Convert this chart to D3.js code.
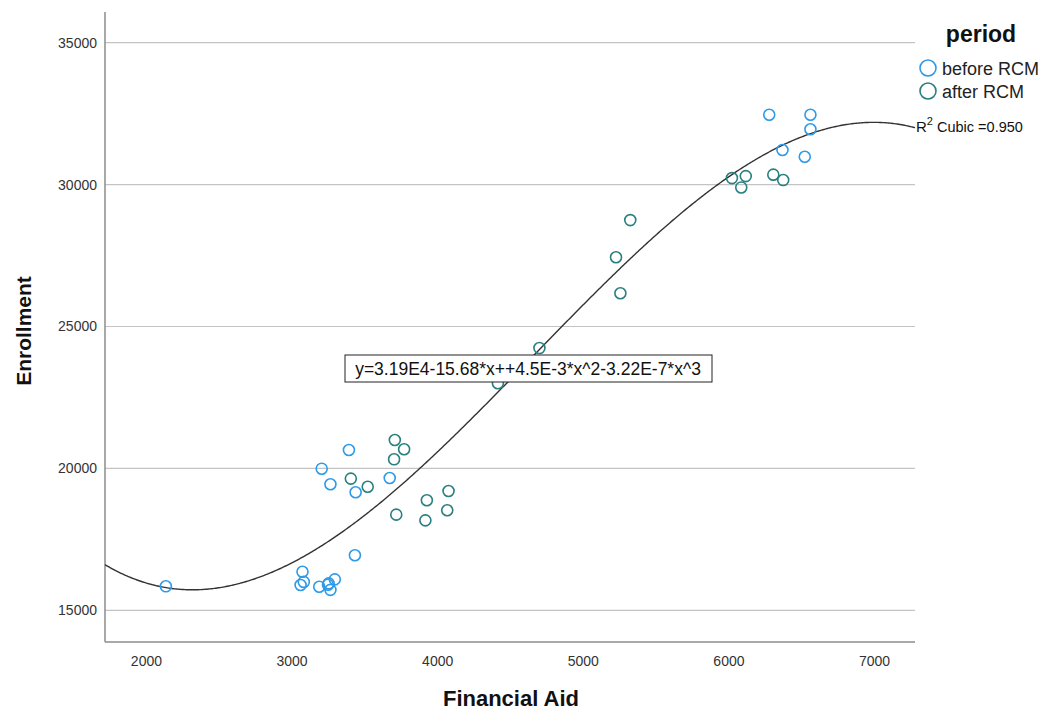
<!DOCTYPE html>
<html>
<head>
<meta charset="utf-8">
<script src="https://cdn.jsdelivr.net/npm/d3@7"></script>
<style>
  body { margin: 0; background: #fff; }
  text { font-family: "Liberation Sans", Arial, sans-serif; }
</style>
</head>
<body>
<div id="chart"></div>
<script>
// values
const beforeAid = [2137, 3394, 3207, 3267, 3440, 3674, 3435, 3075, 3084, 3062, 3190, 3255, 3297, 3267, 3250, 6280, 6563, 6563, 6371, 6524];
const beforeEnroll = [15845, 20650, 19990, 19440, 19160, 19660, 16940, 16360, 16000, 15890, 15830, 15950, 16090, 15720, 15900, 32460, 32460, 31950, 31220, 30980];
const afterAid = [3709, 3773, 3704, 3407, 3523, 3929, 4078, 3719, 3919, 4069, 5326, 5228, 5258, 4702, 4417, 6024, 6119, 6088, 6308, 6376];
const afterEnroll = [21000, 20675, 20320, 19640, 19355, 18876, 19204, 18370, 18170, 18524, 28750, 27440, 26170, 24240, 23000, 30230, 30300, 29900, 30350, 30160];
const xTicks = [2000, 3000, 4000, 5000, 6000, 7000];
const yTicks = [15000, 20000, 25000, 30000, 35000];
const fitCoef = [3.19e4, -15.68, 4.5e-3, -3.22e-7];
const seriesNames = ['before RCM', 'after RCM'];
const seriesColors = ['#2f9ae8', '#2a7f7f'];

const width = 1042, height = 714;
const plotLeft = 105, plotRight = 915, plotTop = 12, plotBottom = 642;

const svg = d3.select('#chart').append('svg')
  .attr('width', width)
  .attr('height', height);

const x = d3.scaleLinear().domain([1719, 7281]).range([plotLeft, plotRight]);
const y = d3.scaleLinear().domain([13883, 36082]).range([plotBottom, plotTop]);

// grid lines
svg.append('g')
  .selectAll('line')
  .data(yTicks)
  .enter().append('line')
  .attr('x1', plotLeft).attr('x2', plotRight)
  .attr('y1', d => y(d)).attr('y2', d => y(d))
  .attr('stroke', '#c4c4c4')
  .attr('stroke-width', 1.2);

// axes
const yAxis = svg.append('g')
  .attr('transform', `translate(${plotLeft},0)`)
  .call(d3.axisLeft(y).tickValues(yTicks).tickSize(0).tickPadding(8).tickFormat(d3.format('d')));
yAxis.select('.domain').attr('stroke', '#8c8c8c').attr('stroke-width', 1.5).attr('d', `M0,${plotTop}V${plotBottom}`);
yAxis.selectAll('text').attr('font-size', 14).attr('fill', '#333');

const xAxis = svg.append('g')
  .attr('transform', `translate(0,${plotBottom})`)
  .call(d3.axisBottom(x).tickValues(xTicks).tickSize(0).tickPadding(14).tickFormat(d3.format('d')));
xAxis.select('.domain').attr('stroke', '#8c8c8c').attr('stroke-width', 1.5).attr('d', `M${plotLeft},0H${plotRight}`);
xAxis.selectAll('text').attr('font-size', 14).attr('fill', '#333');

// cubic fit line
const fit = v => fitCoef[0] + fitCoef[1] * v + fitCoef[2] * v * v + fitCoef[3] * v * v * v;
const xs = d3.range(1719, 7281, 10).concat([7281]);
svg.append('path')
  .datum(xs)
  .attr('fill', 'none')
  .attr('stroke', '#333')
  .attr('stroke-width', 1.4)
  .attr('d', d3.line().x(d => x(d)).y(d => y(fit(d))));

// points
const pts = [];
beforeAid.forEach((v, i) => pts.push({ a: v, e: beforeEnroll[i], s: 0 }));
afterAid.forEach((v, i) => pts.push({ a: v, e: afterEnroll[i], s: 1 }));
svg.append('g')
  .selectAll('circle')
  .data(pts)
  .enter().append('circle')
  .attr('cx', d => x(d.a))
  .attr('cy', d => y(d.e))
  .attr('r', 5.5)
  .attr('fill', 'none')
  .attr('stroke', d => seriesColors[d.s])
  .attr('stroke-width', 1.6);

// equation label
const eq = svg.append('g');
eq.append('rect')
  .attr('x', 345).attr('y', 355).attr('width', 367).attr('height', 27)
  .attr('fill', '#fff').attr('stroke', '#222').attr('stroke-width', 1);
eq.append('text')
  .attr('x', 528).attr('y', 375)
  .attr('text-anchor', 'middle')
  .attr('font-size', 17.5)
  .attr('fill', '#111')
  .text('y=3.19E4-15.68*x++4.5E-3*x^2-3.22E-7*x^3');

// R squared label
const r2 = svg.append('text')
  .attr('x', 916).attr('y', 132)
  .attr('fill', '#111');
r2.append('tspan').attr('font-size', 15).text('R');
r2.append('tspan').attr('font-size', 11).attr('dy', -7).text('2');
r2.append('tspan').attr('font-size', 14.5).attr('dy', 7).text(' Cubic =0.950');

// legend
svg.append('text')
  .attr('x', 981).attr('y', 42)
  .attr('text-anchor', 'middle')
  .attr('font-size', 23)
  .attr('font-weight', 'bold')
  .attr('fill', '#111')
  .text('period');
const leg = svg.append('g')
  .selectAll('g')
  .data(seriesNames)
  .enter().append('g')
  .attr('transform', (d, i) => `translate(928,${68 + i * 23})`);
leg.append('circle')
  .attr('r', 8)
  .attr('fill', 'none')
  .attr('stroke', (d, i) => seriesColors[i])
  .attr('stroke-width', 1.6);
leg.append('text')
  .attr('x', 14).attr('y', 7)
  .attr('font-size', 18)
  .attr('fill', '#222')
  .text(d => d);

// axis titles
svg.append('text')
  .attr('x', 511).attr('y', 706)
  .attr('text-anchor', 'middle')
  .attr('font-size', 22)
  .attr('font-weight', 'bold')
  .attr('fill', '#111')
  .text('Financial Aid');
svg.append('text')
  .attr('transform', 'translate(31,331) rotate(-90)')
  .attr('text-anchor', 'middle')
  .attr('font-size', 21)
  .attr('font-weight', 'bold')
  .attr('fill', '#111')
  .text('Enrollment');
</script>
</body>
</html>
